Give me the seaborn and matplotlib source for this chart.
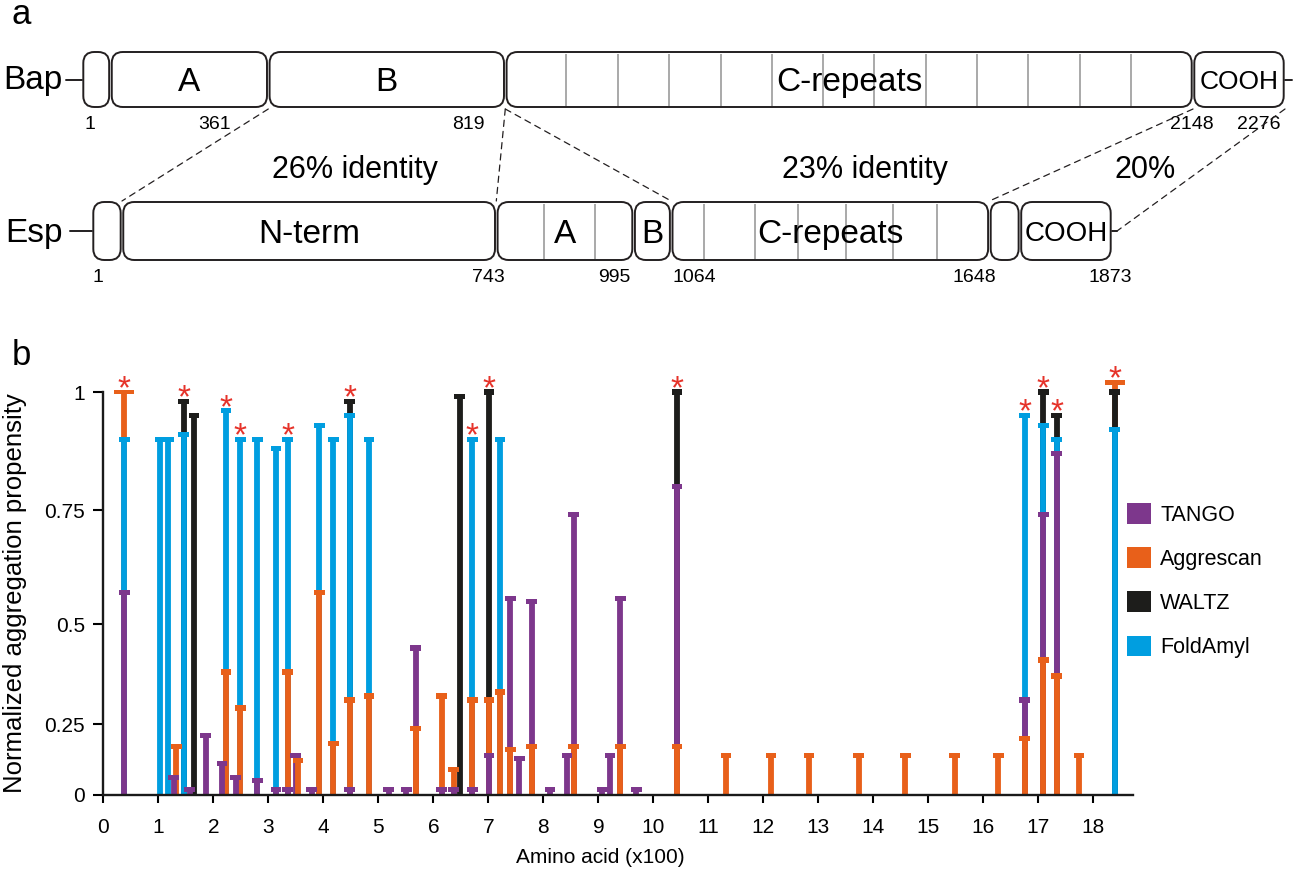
"""Bap / Esp domain maps (a) and aggregation propensity along Esp (b)."""

import matplotlib

matplotlib.use("Agg")
import matplotlib.pyplot as plt
import numpy as np
import pandas as pd
import seaborn as sns
from matplotlib.patches import ConnectionPatch, FancyBboxPatch, Patch
from matplotlib.transforms import offset_copy

# ---------------- panel a: domain boundaries (residue numbers) ----------------
bap_names = ["", "A", "B", "C-repeats", "COOH"]
bap_edges = [1, 56, 361, 819, 2148, 2276]
bap_dividers = [937, 1036, 1135, 1235, 1334, 1433, 1532, 1632, 1731, 1830, 1929, 2028]
bap_numbers = [1, 361, 819, 2148, 2276]

esp_names = ["", "N-term", "A", "B", "C-repeats", "", "COOH"]
esp_edges = [1, 56, 743, 995, 1064, 1648, 1704, 1873]
esp_dividers = [830, 924, 1124, 1217, 1296, 1384, 1471, 1551]
esp_numbers = [1, 743, 995, 1064, 1648, 1873]

# Bap residue -> Esp residue joined by dashed lines
links = [(361, 56), (819, 743), (819, 1064), (2148, 1648), (2276, 1873)]
identity_text = ["26% identity", "23% identity", "20%"]

# ---------------- panel b: normalized propensity, position in x100 aa ----------------
tango_pos = [0.38, 1.28, 1.57, 1.86, 2.16, 2.41, 2.80, 3.14, 3.35, 3.50, 3.79, 4.48, 5.19, 5.51,
             5.68, 6.15, 6.37, 6.71, 7.01, 7.40, 7.56, 7.79, 8.12, 8.43, 8.55, 9.07, 9.21, 9.40,
             9.69, 10.43, 16.75, 17.09, 17.33]
tango_val = [0.57, 0.06, 0.02, 0.21, 0.11, 0.06, 0.05, 0.02, 0.02, 0.14, 0.02, 0.02, 0.02, 0.02,
             0.44, 0.02, 0.02, 0.02, 0.14, 0.555, 0.13, 0.55, 0.02, 0.14, 0.74, 0.02, 0.14, 0.555,
             0.02, 0.80, 0.31, 0.74, 0.87]

aggrescan_pos = [0.38, 1.33, 2.23, 2.49, 3.35, 3.54, 3.93, 4.18, 4.48, 4.83, 5.68, 6.15, 6.37,
                 6.71, 7.01, 7.21, 7.40, 7.79, 8.55, 9.40, 10.43, 11.32, 12.14, 12.83, 13.73,
                 14.58, 15.48, 16.27, 16.75, 17.09, 17.33, 17.74, 18.39]
aggrescan_val = [1.00, 0.17, 0.38, 0.29, 0.38, 0.12, 0.57, 0.18, 0.31, 0.32, 0.235, 0.32, 0.09,
                 0.31, 0.31, 0.33, 0.16, 0.17, 0.17, 0.17, 0.17, 0.14, 0.14, 0.14, 0.14,
                 0.14, 0.14, 0.14, 0.20, 0.41, 0.37, 0.14, 1.02]

waltz_pos = [1.46, 1.65, 4.48, 6.48, 7.01, 10.43, 17.09, 17.33, 18.39]
waltz_val = [0.98, 0.95, 0.98, 0.99, 1.00, 1.00, 1.00, 0.95, 1.00]

foldamyl_pos = [0.38, 1.03, 1.18, 1.46, 2.23, 2.49, 2.80, 3.14, 3.35, 3.93, 4.18, 4.48, 4.83,
                6.71, 7.21, 16.75, 17.09, 17.33, 18.39]
foldamyl_val = [0.90, 0.90, 0.90, 0.91, 0.96, 0.90, 0.90, 0.88, 0.90, 0.93, 0.90, 0.95, 0.90,
                0.90, 0.90, 0.95, 0.93, 0.90, 0.92]

star_pos = [0.38, 1.46, 2.23, 2.49, 3.35, 4.48, 6.71, 7.01, 10.43, 16.75, 17.09, 17.33, 18.39]

x_ticks = list(range(19))
y_ticks = [0, 0.25, 0.5, 0.75, 1]
y_ticklabels = ["0", "0.25", "0.5", "0.75", "1"]

palette = {"TANGO": "#7d378c", "Aggrescan": "#e8601a", "WALTZ": "#1d1d1b", "FoldAmyl": "#009ee0"}
EDGE = "#231f20"
STAR = "#e6332a"

W, H = 1297, 876
sns.set_style("ticks")
plt.rcParams["font.family"] = ["Liberation Sans", "DejaVu Sans"]
plt.rcParams.update({"text.color": "black", "axes.labelcolor": "black",
                     "xtick.color": "black", "ytick.color": "black"})
fig = plt.figure(figsize=(W / 100, H / 100), dpi=100)


def ptxt(x, y, s, **kw):
    fig.text(x / W, 1 - y / H, s, **kw)


def residue_scale(res_knots, px_knots):
    # piecewise-linear residue -> figure pixel scale, extended past the ends
    r = np.asarray(res_knots, float)
    p = np.asarray(px_knots, float)
    lo = (p[1] - p[0]) / (r[1] - r[0])
    hi = (p[-1] - p[-2]) / (r[-1] - r[-2])
    r = np.concatenate([[r[0] - 1e5], r, [r[-1] + 1e5]])
    p = np.concatenate([[p[0] - 1e5 * lo], p, [p[-1] + 1e5 * hi]])
    return (lambda x: np.interp(x, r, p)), (lambda x: np.interp(x, p, r))


def draw_row(res_knots, px_knots, edges, names, dividers, numbers, number_dx,
             top, bottom, name, name_base, left_stub, right_stub, cooh_size):
    fwd, inv = residue_scale(res_knots, px_knots)
    ax = fig.add_axes([0, 0, 1, 1])
    ax.set_xscale("function", functions=(fwd, inv))
    ax.set_xlim(inv(0.0), inv(float(W)))
    ax.set_ylim(H, 0)
    ax.axis("off")
    mid = (top + bottom) / 2
    for x0, x1, label in zip(edges[:-1], edges[1:], names):
        s = (fwd(x1) - fwd(x0)) / (x1 - x0)
        gap = 1.3 / s
        ax.add_patch(FancyBboxPatch(
            (x0 + gap, top), x1 - x0 - 2 * gap, bottom - top,
            boxstyle=f"round,pad=0,rounding_size={11 / s}", mutation_aspect=s,
            facecolor="white", edgecolor=EDGE, linewidth=1.4, zorder=2))
        if label:
            size = cooh_size if label == "COOH" else 24
            ax.text((x0 + x1) / 2, mid + 0.358 * size * 1.389, label, ha="center",
                    va="baseline", fontsize=size, zorder=4)
    ax.vlines(dividers, top + 1.5, bottom - 1.5, color="#a3a3a3", lw=1.3, zorder=3)
    ax.plot([inv(fwd(edges[0]) - left_stub), edges[0]], [mid, mid], color=EDGE, lw=1.4, zorder=1)
    ax.plot([edges[-1], inv(fwd(edges[-1]) + right_stub)], [mid, mid], color=EDGE, lw=1.4,
            zorder=1)
    for n, dx in zip(numbers, number_dx):
        ax.text(n, bottom + 22, str(n), ha="center", va="baseline", fontsize=14,
                transform=offset_copy(ax.transData, fig=fig, x=dx, units="dots"))
    ptxt(63, name_base, name, ha="right", va="baseline", fontsize=24)
    return ax, fwd, inv


BAP_TOP, BAP_BOT = 52, 107
ESP_TOP, ESP_BOT = 202, 260
# the Bap COOH tail is drawn stretched in the schematic
ax_bap, bap_fwd, bap_inv = draw_row([1, 2148, 2276], [82, 1193, 1285], bap_edges, bap_names,
                                    bap_dividers, bap_numbers, [8, -54, -37, -1, -26],
                                    BAP_TOP, BAP_BOT, "Bap", 89, 16, 7, 19)
ax_esp, esp_fwd, esp_inv = draw_row([1, 1873], [92, 1112], esp_edges, esp_names,
                                    esp_dividers, esp_numbers, [6, -8, -19, 23, -15, -2],
                                    ESP_TOP, ESP_BOT, "Esp", 242, 22, 5, 20)

for i, (b, e) in enumerate(links):
    last = i == len(links) - 1
    end_y = (ESP_TOP + ESP_BOT) / 2 if last else ESP_TOP - 1
    end_x = esp_inv(esp_fwd(e) + 5) if last else e
    fig.add_artist(ConnectionPatch(
        xyA=(b, BAP_BOT + 2), coordsA=ax_bap.transData,
        xyB=(end_x, end_y), coordsB=ax_esp.transData,
        color=EDGE, lw=0.9, linestyle=(0, (5, 4))))

for (x, y), txt in zip([(355, 178), (865, 178), (1145, 178)], identity_text):
    ptxt(x, y, txt, ha="center", va="baseline", fontsize=22)

ptxt(21, 24, "a", ha="center", va="baseline", fontsize=25)
ptxt(21, 365, "b", ha="center", va="baseline", fontsize=25)

# ---------------- panel b ----------------
ax = fig.add_axes([103.3 / W, 1 - 795 / H, (1133 - 103.3) / W, (795 - 392) / H])

# the value axis of the original is drawn with uneven spacing between its ticks
knot_v = [-1, 0, 0.25, 0.5, 0.75, 1, 2]
knot_f = [-0.705, 0, 71 / 403, 171 / 403, 285 / 403, 1, 2.17]
ax.set_yscale("function", functions=(lambda v: np.interp(v, knot_v, knot_f),
                                     lambda f: np.interp(f, knot_f, knot_v)))

df = pd.concat([
    pd.DataFrame({"tool": "TANGO", "pos": tango_pos, "value": tango_val}),
    pd.DataFrame({"tool": "Aggrescan", "pos": aggrescan_pos, "value": aggrescan_val}),
    pd.DataFrame({"tool": "WALTZ", "pos": waltz_pos, "value": waltz_val}),
    pd.DataFrame({"tool": "FoldAmyl", "pos": foldamyl_pos, "value": foldamyl_val}),
]).sort_values("value", ascending=False, kind="stable").reset_index(drop=True)

ax.vlines(df["pos"], 0, df["value"], colors=df["tool"].map(palette), lw=4.2,
          capstyle="butt", clip_on=False, zorder=2)

wide = (df["tool"] == "Aggrescan") & (df["value"] >= 1)
cap = [(-1, -0.47), (1, -0.47), (1, 0.47), (-1, 0.47)]
cap_wide = [(-1, -0.23), (1, -0.23), (1, 0.23), (-1, 0.23)]
sns.scatterplot(data=df[~wide], x="pos", y="value", hue="tool", palette=palette, marker=cap,
                s=60, linewidth=0, legend=False, ax=ax, zorder=3, clip_on=False)
sns.scatterplot(data=df[wide], x="pos", y="value", hue="tool", palette=palette, marker=cap_wide,
                s=215, linewidth=0, legend=False, ax=ax, zorder=3, clip_on=False)

tops = df.groupby("pos")["value"].max()
for p in star_pos:
    ax.annotate("*", xy=(p, tops[p]), xytext=(0, -4.3), textcoords="offset points",
                ha="center", va="baseline", color=STAR, fontsize=24, annotation_clip=False)

ax.set_xlim(0, 18.72)
ax.set_ylim(0, 1)
ax.set_xticks(x_ticks)
ax.set_yticks(y_ticks, y_ticklabels)
ax.minorticks_off()
for side in ["top", "right"]:
    ax.spines[side].set_visible(False)
for side in ["left", "bottom"]:
    ax.spines[side].set_linewidth(1.7)
    ax.spines[side].set_color("#1a1a1a")
ax.tick_params(axis="x", direction="out", length=6, width=1.5, pad=10.5, labelsize=15)
ax.tick_params(axis="y", direction="out", length=7, width=1.5, pad=6, labelsize=15)
ax.set_xlabel("Amino acid (x100)", fontsize=15)
ax.xaxis.set_label_coords(0.483, -0.131)
ax.set_ylabel("Normalized aggregation propensity", fontsize=18.5)
ax.yaxis.set_label_coords(-0.0737, 0.5)

handles = [Patch(facecolor=c, edgecolor="none") for c in palette.values()]
fig.legend(handles, list(palette), loc="upper left", bbox_to_anchor=(1127 / W, 1 - 503 / H),
           frameon=False, fontsize=15.5, handlelength=1.1, handleheight=1.1,
           handletextpad=0.45, labelspacing=1.0, borderpad=0, borderaxespad=0)

fig.savefig("out.png", dpi=100)
